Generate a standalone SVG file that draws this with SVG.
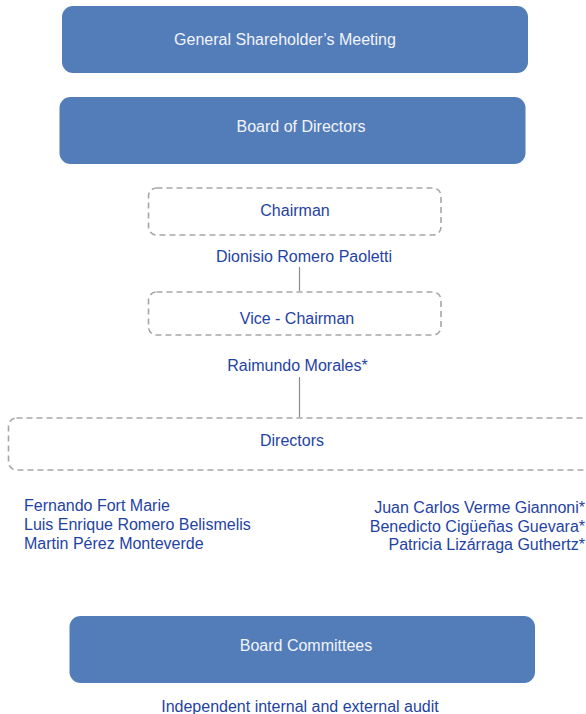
<svg xmlns="http://www.w3.org/2000/svg" width="586" height="714" viewBox="0 0 586 714">
<style>
.blue{fill:#527DB9;}
.dash{fill:none;stroke:#A6A6A6;stroke-width:1.6;stroke-dasharray:6 4;}
.t{font-family:"Liberation Sans",Arial,sans-serif;font-size:16px;}
.w{fill:#F2F4FA;}
.n{fill:#1F43A3;}
.conn{stroke:#8C8C8C;stroke-width:1.2;fill:none;}
</style>
<rect width="586" height="714" fill="#FFFFFF"/>
<g id="connectors">
<line class="conn" x1="299.5" y1="267" x2="299.5" y2="291"/>
<line class="conn" x1="299.5" y1="377" x2="299.5" y2="417"/>
</g>
<g id="gsm">
<rect class="blue" x="62" y="6" width="466" height="67" rx="11"/>
<text class="t w" x="285" y="45" text-anchor="middle">General Shareholder’s Meeting</text>
</g>
<g id="board">
<rect class="blue" x="59.5" y="97" width="466" height="67" rx="11"/>
<text class="t w" x="301" y="132" text-anchor="middle">Board of Directors</text>
</g>
<g id="chairman">
<rect class="dash" x="148.5" y="188" width="292.5" height="47" rx="8"/>
<text class="t n" x="295" y="216" text-anchor="middle">Chairman</text>
<text class="t n" x="304" y="262" text-anchor="middle">Dionisio Romero Paoletti</text>
</g>
<g id="vice-chairman">
<rect class="dash" x="148.5" y="292" width="292.5" height="43" rx="8"/>
<text class="t n" x="297" y="324" text-anchor="middle">Vice - Chairman</text>
<text class="t n" x="297.5" y="371" text-anchor="middle">Raimundo Morales*</text>
</g>
<g id="directors">
<rect class="dash" x="8.5" y="418" width="584" height="52" rx="8"/>
<text class="t n" x="292" y="445.5" text-anchor="middle">Directors</text>
<text class="t n" x="24" y="511">Fernando Fort Marie</text>
<text class="t n" x="24" y="530">Luis Enrique Romero Belismelis</text>
<text class="t n" x="24" y="549">Martin Pérez Monteverde</text>
<text class="t n" x="585" y="512.5" text-anchor="end">Juan Carlos Verme Giannoni*</text>
<text class="t n" x="585" y="531.5" text-anchor="end">Benedicto Cigüeñas Guevara*</text>
<text class="t n" x="585" y="550" text-anchor="end">Patricia Lizárraga Guthertz*</text>
</g>
<g id="committees">
<rect class="blue" x="69.5" y="616" width="465.5" height="67" rx="11"/>
<text class="t w" x="306" y="651" text-anchor="middle">Board Committees</text>
<text class="t n" x="300" y="711.5" text-anchor="middle">Independent internal and external audit</text>
</g>
</svg>
